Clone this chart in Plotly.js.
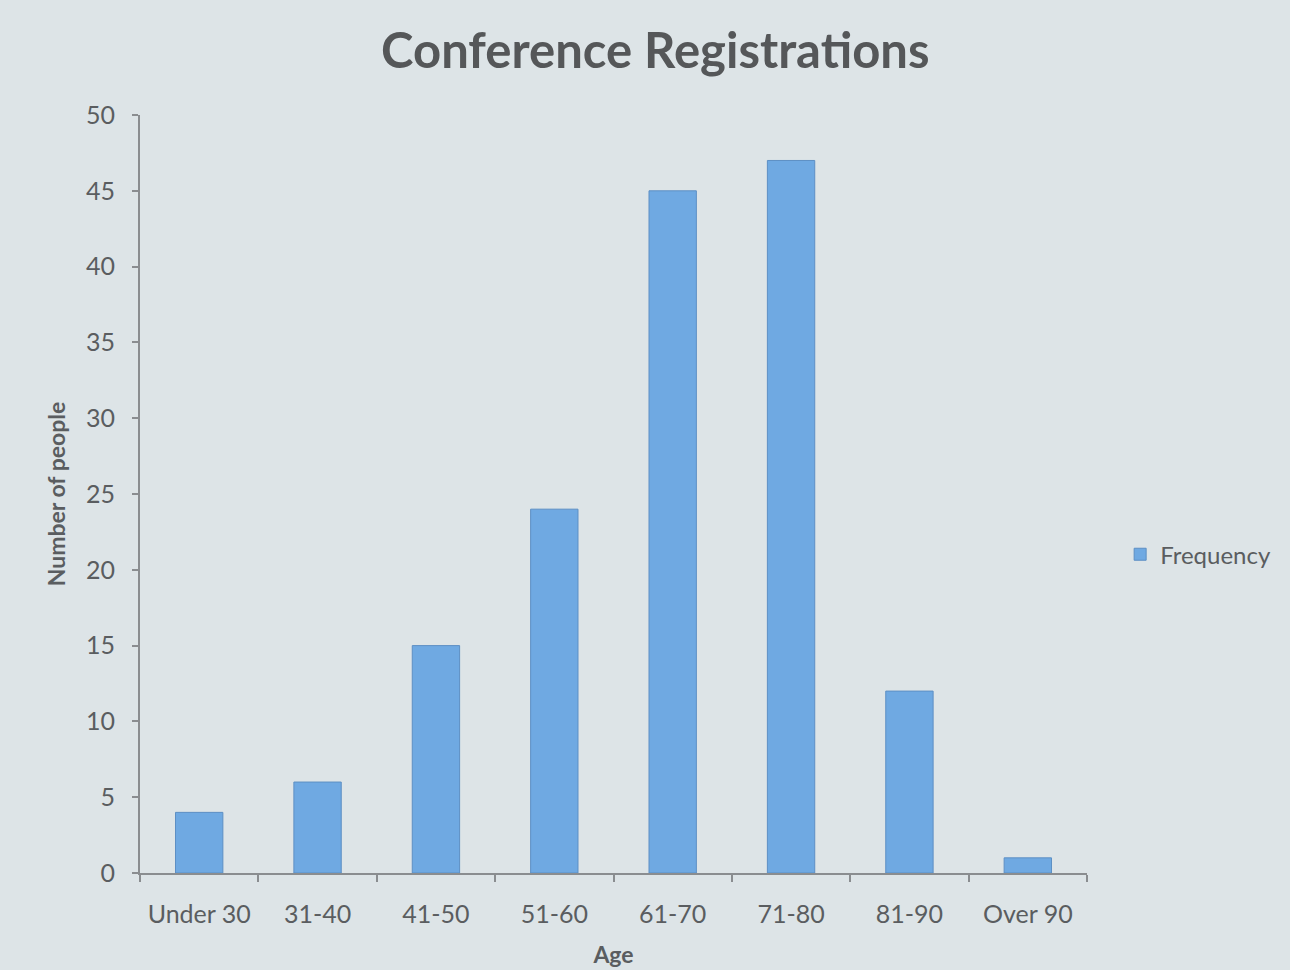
<!DOCTYPE html>
<html>
<head>
<meta charset="utf-8">
<script src="https://cdn.plot.ly/plotly-3.0.1.min.js"></script>
<style>html,body{margin:0;padding:0;background:#dde4e7;}#chart{width:1290px;height:970px;}</style>
</head>
<body>
<div id="chart"></div>
<script>
const categories = ["Under 30", "31-40", "41-50", "51-60", "61-70", "71-80", "81-90", "Over 90"];
const frequency = [4, 6, 15, 24, 45, 47, 12, 1];
const yTicks = [0, 5, 10, 15, 20, 25, 30, 35, 40, 45, 50];

const bg = "#dde4e7";
const textColor = "#5a5d60";
const axisColor = "#8a8d90";

const trace = {
  type: "bar",
  x: categories,
  y: frequency,
  name: "Frequency",
  marker: {color: "#6fa9e2", line: {color: "#5d8fc4", width: 1}},
  showlegend: true
};

const layout = {
  width: 1290,
  height: 970,
  paper_bgcolor: bg,
  plot_bgcolor: bg,
  margin: {l: 140, r: 203, t: 115, b: 97, autoexpand: false},
  bargap: 0.6,
  font: {family: "Lato, 'Open Sans', sans-serif", color: textColor, size: 20},
  title: {
    text: "<b>Conference Registrations</b>",
    font: {family: "Lato, 'Open Sans', sans-serif", size: 49, color: "#555759"},
    xref: "container", x: 0.508, xanchor: "center",
    yref: "container", y: 0.948, yanchor: "middle"
  },
  xaxis: {
    type: "category",
    showline: true, linecolor: axisColor, linewidth: 2,
    ticks: "outside", tickson: "boundaries", ticklen: 7, tickcolor: axisColor, tickwidth: 2,
    showgrid: false, zeroline: false,
    ticklabelstandoff: 18,
    tickfont: {size: 25, color: textColor},
    title: {text: "<b>Age</b>", font: {size: 23, color: textColor}, standoff: 20}
  },
  yaxis: {
    range: [0, 50],
    tickvals: yTicks,
    showline: true, linecolor: axisColor, linewidth: 2,
    ticks: "outside", ticklen: 6, tickcolor: axisColor, tickwidth: 2,
    showgrid: false, zeroline: false,
    ticklabelstandoff: 12,
    tickfont: {size: 25, color: textColor},
    title: {text: "<b>Number of people</b>", font: {size: 23, color: textColor}, standoff: 14}
  },
  legend: {
    x: 1.035, xanchor: "left", y: 0.42, yanchor: "middle",
    bgcolor: "rgba(0,0,0,0)",
    font: {size: 24, color: textColor},
    itemwidth: 30
  }
};

Plotly.newPlot("chart", [trace], layout, {displayModeBar: false, staticPlot: true});
</script>
</body>
</html>
